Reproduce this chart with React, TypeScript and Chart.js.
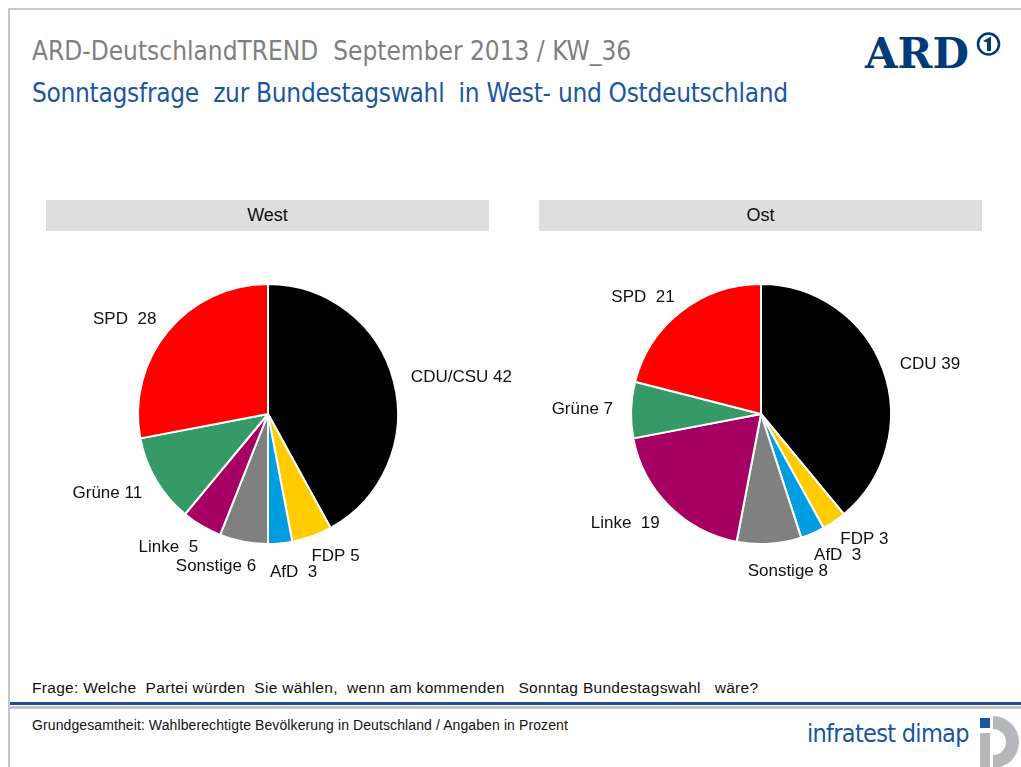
import React, { useEffect, useRef } from "react";
import { Chart, registerables } from "chart.js";

Chart.register(...registerables);

const parties = ["CDU/CSU", "FDP", "AfD", "Sonstige", "Linke", "Grüne", "SPD"];
const westLabels = ["CDU/CSU 42", "FDP 5", "AfD  3", "Sonstige 6", "Linke  5", "Grüne 11", "SPD  28"];
const westValues = [42, 5, 3, 6, 5, 11, 28];
const ostLabels = ["CDU 39", "FDP 3", "AfD  3", "Sonstige 8", "Linke  19", "Grüne 7", "SPD  21"];
const ostValues = [39, 3, 3, 8, 19, 7, 21];
const partyColors = ["#000000", "#ffcc00", "#009ee0", "#808080", "#a50062", "#359a68", "#ff0000"];

const labelPlugin = {
  id: "outerLabels",
  afterDatasetsDraw(chart: any) {
    const ctx = chart.ctx;
    const meta = chart.getDatasetMeta(0);
    const texts: string[] = chart.options.plugins.outerLabels.texts;
    ctx.save();
    ctx.font = "17px 'Liberation Sans', Arial, sans-serif";
    ctx.fillStyle = "#111111";
    ctx.textBaseline = "middle";
    ctx.textAlign = "left";
    const h = 13;
    const boxes = meta.data.map((arc: any, i: number) => {
      const p = arc.getProps(["x", "y", "startAngle", "endAngle", "outerRadius"], true);
      const mid = (p.startAngle + p.endAngle) / 2;
      const dx = Math.cos(mid);
      const dy = Math.sin(mid);
      const r = p.outerRadius + 18;
      const px = p.x + dx * r;
      const py = p.y + dy * r;
      const w = ctx.measureText(texts[i]).width;
      const sx = Math.sign(dx) * Math.pow(Math.abs(dx), 0.3);
      const left = px - (w * (1 - sx)) / 2;
      const cy = py + (Math.max(dy, 0) * 14) / 2;
      return { x: left, y: cy - h / 2, w, h };
    });
    const pad = 3;
    for (let it = 0; it < 20; it++) {
      let moved = false;
      for (let a = 0; a < boxes.length; a++) {
        for (let b = a + 1; b < boxes.length; b++) {
          const A = boxes[a];
          const B = boxes[b];
          const ox = Math.min(A.x + A.w, B.x + B.w) - Math.max(A.x, B.x) + pad;
          const oy = Math.min(A.y + A.h, B.y + B.h) - Math.max(A.y, B.y) + pad;
          if (ox > 0 && oy > 0) {
            moved = true;
            if (oy < ox) {
              const dir = A.y + A.h / 2 <= B.y + B.h / 2 ? 1 : -1;
              A.y -= (dir * oy) / 2;
              B.y += (dir * oy) / 2;
            } else {
              const dir = A.x + A.w / 2 <= B.x + B.w / 2 ? 1 : -1;
              A.x -= (dir * ox) / 2;
              B.x += (dir * ox) / 2;
            }
          }
        }
      }
      if (!moved) break;
    }
    boxes.forEach((bx: any, i: number) => {
      ctx.fillText(texts[i], bx.x, bx.y + bx.h / 2);
    });
    ctx.restore();
  },
};

function Pie({ values, texts, left, top }: { values: number[]; texts: string[]; left: number; top: number }) {
  const ref = useRef<HTMLCanvasElement | null>(null);
  useEffect(() => {
    if (!ref.current) return;
    const chart = new Chart(ref.current, {
      type: "pie",
      data: {
        labels: parties,
        datasets: [
          {
            data: values,
            backgroundColor: partyColors,
            borderColor: "#ffffff",
            borderWidth: 2,
            radius: 130,
          },
        ],
      },
      options: {
        animation: false,
        responsive: false,
        maintainAspectRatio: false,
        layout: { padding: 0 },
        plugins: {
          legend: { display: false },
          tooltip: { enabled: false },
          outerLabels: { texts },
        } as any,
      },
      plugins: [labelPlugin],
    });
    return () => chart.destroy();
  }, [values, texts]);
  return (
    <canvas
      ref={ref}
      width={500}
      height={360}
      style={{ position: "absolute", left, top, width: 500, height: 360 }}
    />
  );
}

const sans = "'Liberation Sans', Arial, sans-serif";
const cond = "'DejaVu Sans Condensed', 'DejaVu Sans', sans-serif";

export default function App() {
  return (
    <div
      style={{
        position: "fixed",
        left: 0,
        top: 0,
        width: 1021,
        height: 767,
        background: "#ffffff",
        overflow: "hidden",
      }}
    >
      {/* frame */}
      <div style={{ position: "absolute", left: 8, top: 8, width: 1013, height: 2, background: "#c8c8c8" }} />
      <div style={{ position: "absolute", left: 8, top: 8, width: 2, height: 759, background: "#c8c8c8" }} />
      <div style={{ position: "absolute", left: 10, top: 702, width: 1011, height: 3, background: "#1f4e9a" }} />
      <div style={{ position: "absolute", left: 10, top: 706, width: 1011, height: 3, background: "#c4c4c4" }} />

      {/* titles */}
      <div
        style={{
          position: "absolute",
          left: 32,
          top: 36,
          fontFamily: cond,
          fontSize: 26,
          lineHeight: "30px",
          color: "#7f7f7f",
          whiteSpace: "pre",
          fontStretch: "condensed",
        }}
      >
        ARD-DeutschlandTREND  September 2013 / KW_36
      </div>
      <div
        style={{
          position: "absolute",
          left: 32,
          top: 78,
          fontFamily: cond,
          fontSize: 26,
          lineHeight: "30px",
          color: "#1b56a4",
          whiteSpace: "pre",
          fontStretch: "condensed",
          letterSpacing: -0.3,
        }}
      >
        Sonntagsfrage  zur Bundestagswahl  in West- und Ostdeutschland
      </div>

      {/* ARD logo */}
      <div
        style={{
          position: "absolute",
          left: 865,
          top: 29,
          fontFamily: "'DejaVu Serif', serif",
          fontWeight: "bold",
          fontSize: 42,
          lineHeight: "50px",
          color: "#003a78",
        }}
      >
        ARD
      </div>
      <svg style={{ position: "absolute", left: 975, top: 30 }} width={28} height={28}>
        <circle cx={13.5} cy={14} r={10.5} fill="none" stroke="#003a78" strokeWidth={2.6} />
        <path d="M 8 11 L 16 6.5 L 16 21 L 12 21 L 12 12.5 Z" fill="#003a78" />
      </svg>

      {/* panel headers */}
      <div
        style={{
          position: "absolute",
          left: 46,
          top: 200,
          width: 443,
          height: 31,
          background: "#dedede",
          fontFamily: sans,
          fontSize: 18,
          lineHeight: "31px",
          textAlign: "center",
          color: "#111",
        }}
      >
        West
      </div>
      <div
        style={{
          position: "absolute",
          left: 539,
          top: 200,
          width: 443,
          height: 31,
          background: "#dedede",
          fontFamily: sans,
          fontSize: 18,
          lineHeight: "31px",
          textAlign: "center",
          color: "#111",
        }}
      >
        Ost
      </div>

      <Pie values={westValues} texts={westLabels} left={18} top={234} />
      <Pie values={ostValues} texts={ostLabels} left={511} top={234} />

      {/* footer */}
      <div
        style={{
          position: "absolute",
          left: 32,
          top: 678,
          fontFamily: sans,
          fontSize: 15.5,
          lineHeight: "20px",
          color: "#111",
          whiteSpace: "pre",
          letterSpacing: 0.3,
        }}
      >
        Frage: Welche  Partei würden  Sie wählen,  wenn am kommenden   Sonntag Bundestagswahl   wäre?
      </div>
      <div
        style={{
          position: "absolute",
          left: 32,
          top: 716,
          fontFamily: sans,
          fontSize: 14,
          lineHeight: "18px",
          color: "#111",
          whiteSpace: "pre",
          letterSpacing: 0.1,
        }}
      >
        Grundgesamtheit: Wahlberechtigte Bevölkerung in Deutschland / Angaben in Prozent
      </div>

      {/* infratest dimap logo */}
      <div
        style={{
          position: "absolute",
          left: 807,
          top: 718,
          fontFamily: cond,
          fontSize: 25,
          lineHeight: "32px",
          color: "#1a55a0",
          whiteSpace: "pre",
          fontStretch: "condensed",
          letterSpacing: -0.7,
        }}
      >
        infratest dimap
      </div>
      <svg style={{ position: "absolute", left: 975, top: 714 }} width={46} height={53}>
        <rect x={5} y={4} width={10} height={10} fill="#1a55a0" />
        <rect x={5} y={19} width={10} height={36} fill="#b4b8bc" />
        <path d="M 18 2 A 26 26 0 0 1 18 54 L 18 41 A 13 13 0 0 0 18 15 Z" fill="#b4b8bc" />
      </svg>
    </div>
  );
}
